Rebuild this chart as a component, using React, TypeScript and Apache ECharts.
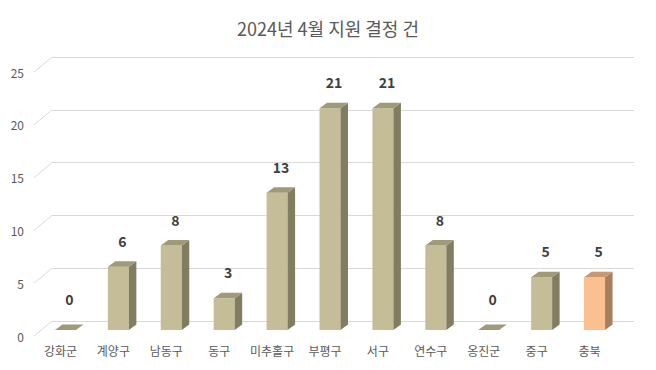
import React, { useEffect, useRef } from "react";
import * as echarts from "echarts";

const categories = ["강화군", "계양구", "남동구", "동구", "미추홀구", "부평구", "서구", "연수구", "옹진군", "중구", "충북"];
const values = [0, 6, 8, 3, 13, 21, 21, 8, 0, 5, 5];
const yTicks = [0, 5, 10, 15, 20, 25];
const titleText = "2024년 4월 지원 결정 건";

const FONT = "'Noto Sans CJK KR', 'Noto Sans', sans-serif";
const normalColors = { front: "#c4bd97", side: "#827d61", top: "#a09a78" };
const highlightColors = { front: "#fac090", side: "#a87f5e", top: "#c99873" };

export default function App() {
  const ref = useRef<HTMLDivElement>(null);
  useEffect(() => {
    if (!ref.current) return;
    const chart = echarts.init(ref.current, null, { renderer: "svg" });
    const DX = 7.5, DY = 5.5, BW = 21;
    chart.setOption({
      animation: false,
      backgroundColor: "#ffffff",
      title: {
        text: titleText,
        left: "center",
        top: 14,
        textStyle: { fontFamily: FONT, fontSize: 18, fontWeight: "normal", color: "#595959" },
      },
      grid: [
        { left: 52, right: 22, top: 57, bottom: 49 },
        { left: 34, right: 40, top: 72, bottom: 34 },
        { left: 39, right: 35, top: 66, bottom: 40 },
      ],
      xAxis: [
        { type: "value", gridIndex: 0, min: 0, max: 1, show: false },
        {
          type: "category", gridIndex: 1, data: categories,
          axisLine: { show: false }, axisTick: { show: false }, splitLine: { show: false },
          axisLabel: { fontFamily: FONT, fontSize: 12, color: "#595959", margin: 8, interval: 0 },
        },
        { type: "category", gridIndex: 2, data: categories, show: false },
      ],
      yAxis: [
        {
          type: "value", gridIndex: 0, min: 0, max: 25, interval: 5,
          axisLabel: { show: false }, axisLine: { show: false }, axisTick: { show: false },
          splitLine: { show: true, lineStyle: { color: "#d9d9d9", width: 1 } },
        },
        {
          type: "value", gridIndex: 1, min: 0, max: 25, interval: 5,
          axisLine: { show: false }, axisTick: { show: false }, splitLine: { show: false },
          axisLabel: { fontFamily: FONT, fontSize: 12, color: "#595959", margin: 10 },
        },
        { type: "value", gridIndex: 2, min: 0, max: 25, interval: 5, show: false },
      ],
      series: [
        {
          type: "custom",
          xAxisIndex: 0,
          yAxisIndex: 0,
          silent: true,
          clip: false,
          data: yTicks.map((t) => [0, t]),
          renderItem: (params: any, api: any) => {
            const p = api.coord([0, api.value(1)]);
            return {
              type: "line",
              shape: { x1: p[0] - 18, y1: p[1] + 15, x2: p[0], y2: p[1] },
              style: { stroke: "#d9d9d9", lineWidth: 1 },
            };
          },
        },
        {
          type: "custom",
          xAxisIndex: 2,
          yAxisIndex: 2,
          clip: false,
          data: values.map((v, i) => [i, v]),
          renderItem: (params: any, api: any) => {
            const i = api.value(0);
            const v = api.value(1);
            const base = api.coord([i, 0]);
            const top = api.coord([i, v]);
            const c = i === values.length - 1 ? highlightColors : normalColors;
            const l = base[0] - BW / 2;
            const r = base[0] + BW / 2;
            const b = base[1];
            const t = top[1];
            const children: any[] = [];
            if (b - t > 0.5) {
              children.push({
                type: "rect",
                shape: { x: l, y: t, width: BW, height: b - t },
                style: { fill: c.front },
              });
              children.push({
                type: "polygon",
                shape: { points: [[r, t], [r + DX, t - DY], [r + DX, b - DY], [r, b]] },
                style: { fill: c.side },
              });
            }
            children.push({
              type: "polygon",
              shape: { points: [[l, t], [l + DX, t - DY], [r + DX, t - DY], [r, t]] },
              style: { fill: c.top },
            });
            children.push({
              type: "text",
              style: {
                text: String(v),
                x: base[0] + 4,
                y: t - (v === 0 ? 31 : 26),
                align: "center",
                verticalAlign: "middle",
                fontFamily: FONT,
                fontSize: 14,
                fontWeight: "bold",
                fill: "#404040",
              },
            });
            return { type: "group", children };
          },
        },
      ],
    });
    return () => chart.dispose();
  }, []);
  return <div ref={ref} style={{ position: "absolute", left: 0, top: 0, width: 656, height: 370 }} />;
}
